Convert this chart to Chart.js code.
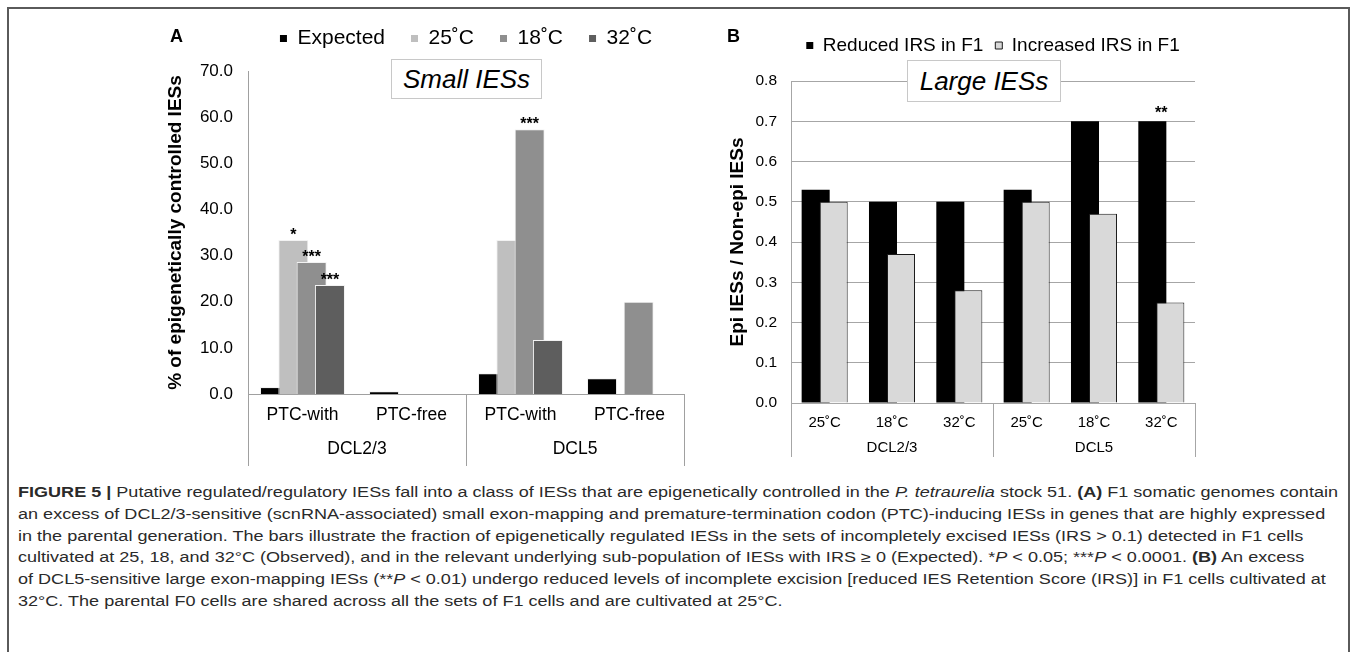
<!DOCTYPE html>
<html>
<head>
<meta charset="utf-8">
<script src="https://cdn.jsdelivr.net/npm/chart.js@4.4.1/dist/chart.umd.min.js"></script>
<style>
  html, body { margin: 0; padding: 0; background: #fff; }
  body { width: 1357px; height: 652px; position: relative; overflow: hidden; font-family: "Liberation Sans", Arial, sans-serif; color: #000; }
  .frame { position: absolute; left: 7px; top: 7px; width: 1343px; height: 700px; border: 2px solid #5a5a5a; border-bottom: none; box-sizing: border-box; }
  canvas { position: absolute; top: 0; }
  #chartA { left: 140px; }
  #chartB { left: 712px; }
  .panel { position: absolute; font-weight: bold; font-size: 18px; line-height: 18px; }
  .title-box { position: absolute; background: #fff; border: 1px solid #c8c8c8; font-style: italic; font-size: 26px; text-align: center; box-sizing: border-box; }
  .caption { position: absolute; left: 18px; top: 482px; font-size: 14px; line-height: 21.8px; color: #2a2a2a; transform-origin: 0 0; white-space: nowrap; }
  .caption div { width: max-content; }
</style>
</head>
<body>
<div class="frame"></div>
<canvas id="chartA" width="580" height="480"></canvas>
<canvas id="chartB" width="518" height="480"></canvas>
<div class="panel" style="left:170px; top:27px;">A</div>
<div class="panel" style="left:727px; top:27px;">B</div>
<div class="title-box" style="left:391px; top:59px; width:151px; height:40px; line-height:38px;">Small IESs</div>
<div class="title-box" style="left:907px; top:60px; width:154px; height:42px; line-height:40px;">Large IESs</div>
<div class="caption" id="caption">
  <div><b>FIGURE 5 |</b> Putative regulated/regulatory IESs fall into a class of IESs that are epigenetically controlled in the <i>P. tetraurelia</i> stock 51. <b>(A)</b> F1 somatic genomes contain</div>
  <div>an excess of DCL2/3-sensitive (scnRNA-associated) small exon-mapping and premature-termination codon (PTC)-inducing IESs in genes that are highly expressed</div>
  <div>in the parental generation. The bars illustrate the fraction of epigenetically regulated IESs in the sets of incompletely excised IESs (IRS &gt; 0.1) detected in F1 cells</div>
  <div>cultivated at 25, 18, and 32°C (Observed), and in the relevant underlying sub-population of IESs with IRS ≥ 0 (Expected). *<i>P</i> &lt; 0.05; ***<i>P</i> &lt; 0.0001. <b>(B)</b> An excess</div>
  <div>of DCL5-sensitive large exon-mapping IESs (**<i>P</i> &lt; 0.01) undergo reduced levels of incomplete excision [reduced IES Retention Score (IRS)] in F1 cells cultivated at</div>
  <div>32°C. The parental F0 cells are shared across all the sets of F1 cells and are cultivated at 25°C.</div>
</div>
<script>
// ---- panel A : small IESs (% of epigenetically controlled IESs)
const categoriesA = ['PTC-with', 'PTC-free', 'PTC-with', 'PTC-free'];
const groupsA = ['DCL2/3', 'DCL5'];
const expectedA = [1.5, 0.6, 4.5, 3.4];
const obs25A = [33.4, 0, 33.4, 0];
const obs18A = [28.6, 0, 57.4, 20.0];
const obs32A = [23.6, 0, 11.7, 0];
const stars25A = ['*', '', '', ''];
const stars18A = ['***', '', '***', ''];
const stars32A = ['***', '', '', ''];

// ---- panel B : large IESs (epi / non-epi ratio)
const categoriesB = ['25˚C', '18˚C', '32˚C', '25˚C', '18˚C', '32˚C'];
const groupsB = ['DCL2/3', 'DCL5'];
const reducedB = [0.53, 0.50, 0.50, 0.53, 0.70, 0.70];
const increasedB = [0.50, 0.37, 0.28, 0.50, 0.47, 0.25];
const starsReducedB = ['', '', '', '', '', '**'];

const FONT = '"Liberation Sans", Arial, sans-serif';
Chart.defaults.font.family = FONT;
Chart.defaults.color = '#000';

// excel-like overlap: later series drawn over earlier ones
const overlapOrder = {
  id: 'overlapOrder',
  beforeDatasetsDraw(chart) {
    chart.getSortedVisibleDatasetMetas().forEach(meta => meta.controller.draw());
    return false;
  }
};

// significance stars above bars
const starLabels = {
  id: 'starLabels',
  afterDraw(chart, args, opts) {
    const ctx = chart.ctx;
    ctx.save();
    ctx.font = 'bold 16px ' + FONT;
    ctx.fillStyle = '#000';
    ctx.textAlign = 'center';
    ctx.textBaseline = 'alphabetic';
    chart.data.datasets.forEach((ds, i) => {
      if (!ds.stars) return;
      const bars = chart.getDatasetMeta(i).data;
      ds.stars.forEach((s, j) => {
        if (!s) return;
        const x = opts.atCategory ? chart.scales.x.getPixelForValue(j) : bars[j].x;
        ctx.fillText(s, x, bars[j].y - opts.gap);
      });
    });
    ctx.restore();
  }
};

// second level of category labels (DCL2/3, DCL5) with separators
const groupAxis = {
  id: 'groupAxis',
  afterDraw(chart, args, opts) {
    const {ctx, chartArea, scales: {x}} = chart;
    const per = chart.data.labels.length / opts.groups.length;
    const step = x.getPixelForValue(1) - x.getPixelForValue(0);
    ctx.save();
    ctx.strokeStyle = opts.color;
    ctx.lineWidth = 1;
    for (let g = 0; g <= opts.groups.length; g++) {
      const px = Math.round(x.getPixelForValue(g * per) - step / 2) + 0.5;
      ctx.beginPath();
      ctx.moveTo(px, chartArea.bottom);
      ctx.lineTo(px, chartArea.bottom + opts.length);
      ctx.stroke();
    }
    ctx.font = opts.fontSize + 'px ' + FONT;
    ctx.fillStyle = '#000';
    ctx.textAlign = 'center';
    ctx.textBaseline = 'middle';
    opts.groups.forEach((name, g) => {
      const a = x.getPixelForValue(g * per);
      const b = x.getPixelForValue(g * per + per - 1);
      ctx.fillText(name, (a + b) / 2, chartArea.bottom + opts.labelY);
    });
    ctx.restore();
  }
};

const noBorderLabels = chart =>
  Chart.defaults.plugins.legend.labels.generateLabels(chart).map(item => Object.assign(item, {lineWidth: 0}));

new Chart(document.getElementById('chartA'), {
  type: 'bar',
  data: {
    labels: categoriesA,
    datasets: [
      {label: 'Expected', data: expectedA, backgroundColor: '#000000', xAxisID: 'x', yAxisID: 'y'},
      {label: '25˚C', data: obs25A, backgroundColor: '#bfbfbf', stars: stars25A, xAxisID: 'x', yAxisID: 'y'},
      {label: '18˚C', data: obs18A, backgroundColor: '#8f8f8f', stars: stars18A, xAxisID: 'x', yAxisID: 'y'},
      {label: '32˚C', data: obs32A, backgroundColor: '#5e5e5e', stars: stars32A, xAxisID: 'x', yAxisID: 'y'}
    ]
  },
  options: {
    responsive: false,
    animation: false,
    layout: {padding: {left: 24, right: 36, top: 2, bottom: 14}},
    datasets: {bar: {categoryPercentage: 0.672, barPercentage: 1.64, borderWidth: 1, borderColor: '#f2f2f2'}},
    scales: {
      x: {
        grid: {display: false, drawTicks: false},
        border: {display: true, color: '#a0a0a0'},
        ticks: {font: {size: 17.5}, padding: 11, maxRotation: 0, autoSkip: false},
        afterFit: s => { s.height = 72; }
      },
      spacer: {
        type: 'category', position: 'top', labels: [''],
        grid: {display: false, drawTicks: false}, border: {display: false}, ticks: {display: false},
        afterFit: s => { s.height = 12; }
      },
      y: {
        min: 0, max: 70,
        ticks: {stepSize: 10, callback: v => v.toFixed(1), font: {size: 17}, padding: 15},
        grid: {display: false, drawTicks: false},
        border: {display: true, color: '#a0a0a0'},
        title: {display: true, text: '% of epigenetically controlled IESs', font: {size: 19, weight: 'bold'}, padding: {top: 0, bottom: 0}},
        afterFit: s => { s.width = 84; }
      }
    },
    plugins: {
      legend: {fullSize: false, labels: {boxWidth: 7, boxHeight: 7, padding: 26, font: {size: 21}, generateLabels: noBorderLabels}},
      tooltip: {enabled: false},
      starLabels: {gap: 0, atCategory: false},
      groupAxis: {groups: groupsA, color: '#a0a0a0', length: 72, labelY: 55, fontSize: 17.5}
    }
  },
  plugins: [overlapOrder, starLabels, groupAxis]
});

new Chart(document.getElementById('chartB'), {
  type: 'bar',
  data: {
    labels: categoriesB,
    datasets: [
      {label: 'Reduced IRS in F1', data: reducedB, backgroundColor: '#000000', borderWidth: 0, stars: starsReducedB, xAxisID: 'x', yAxisID: 'y'},
      {label: 'Increased IRS in F1', data: increasedB, backgroundColor: '#d9d9d9', borderColor: '#1a1a1a', borderWidth: 1, xAxisID: 'x', yAxisID: 'y'}
    ]
  },
  options: {
    responsive: false,
    animation: false,
    layout: {padding: {left: 14, right: 35, top: 24, bottom: 23}},
    datasets: {bar: {categoryPercentage: 0.535, barPercentage: 1.556}},
    scales: {
      x: {
        grid: {display: false, drawTicks: false},
        border: {display: true, color: '#a6a6a6'},
        ticks: {font: {size: 15}, padding: 11, maxRotation: 0, autoSkip: false},
        afterFit: s => { s.height = 54; }
      },
      spacer: {
        type: 'category', position: 'top', labels: [''],
        grid: {display: false, drawTicks: false}, border: {display: false}, ticks: {display: false},
        afterFit: s => { s.height = 16; }
      },
      y: {
        min: 0, max: 0.8,
        ticks: {stepSize: 0.1, callback: v => v.toFixed(1), font: {size: 15.5}, padding: 14},
        grid: {color: '#a6a6a6', drawTicks: false},
        border: {display: true, color: '#a6a6a6'},
        title: {display: true, text: 'Epi IESs / Non-epi IESs', font: {size: 19, weight: 'bold'}, padding: {top: 0, bottom: 0}},
        afterFit: s => { s.width = 65; }
      }
    },
    plugins: {
      legend: {fullSize: false, labels: {boxWidth: 7, boxHeight: 7, padding: 12, font: {size: 19}}},
      tooltip: {enabled: false},
      starLabels: {gap: 3, atCategory: true},
      groupAxis: {groups: groupsB, color: '#a6a6a6', length: 54, labelY: 45, fontSize: 15}
    }
  },
  plugins: [overlapOrder, starLabels, groupAxis]
});

// caption: stretch to the printed line width
const cap = document.getElementById('caption');
const natural = cap.firstElementChild.getBoundingClientRect().width;
cap.style.transform = 'scaleX(' + (1320 / natural) + ')';
</script>
</body>
</html>
